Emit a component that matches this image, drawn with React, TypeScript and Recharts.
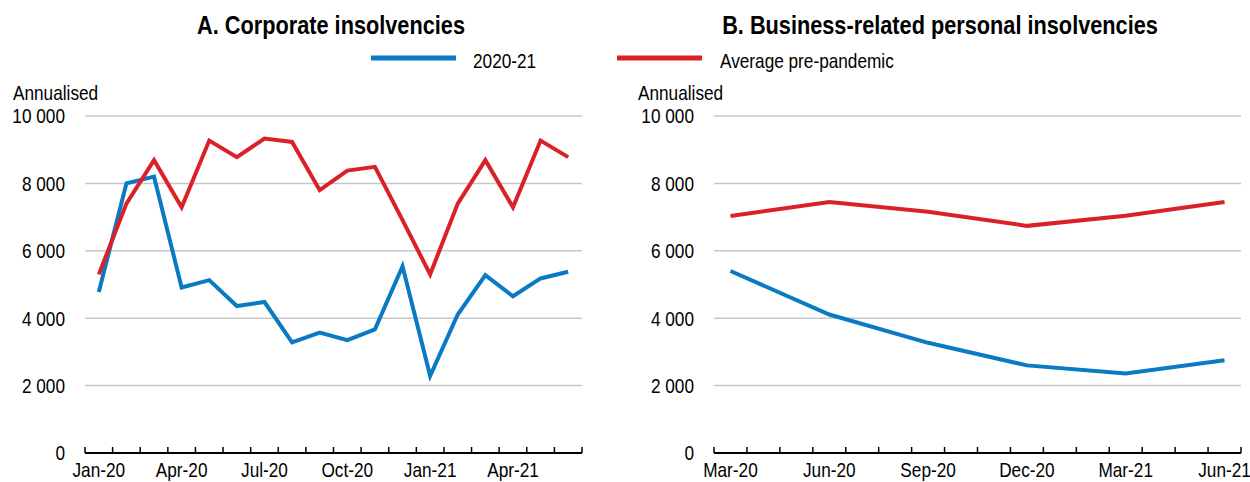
import * as React from 'react';
import { LineChart, Line, XAxis, YAxis, CartesianGrid } from 'recharts';

// Panel A: monthly corporate insolvencies (annualised)
const monthsA = [
  'Jan-20', 'Feb-20', 'Mar-20', 'Apr-20', 'May-20', 'Jun-20', 'Jul-20', 'Aug-20', 'Sep-20',
  'Oct-20', 'Nov-20', 'Dec-20', 'Jan-21', 'Feb-21', 'Mar-21', 'Apr-21', 'May-21', 'Jun-21',
];
const corp2020 = [4780, 8000, 8200, 4910, 5130, 4360, 4480, 3280, 3570, 3350, 3670, 5540, 2290, 4110, 5280, 4650, 5180, 5380];
const corpAvg = [5300, 7400, 8690, 7290, 9270, 8780, 9330, 9230, 7800, 8380, 8490, 6910, 5300, 7400, 8690, 7290, 9270, 8780];
const labelsA = ['Jan-20', 'Apr-20', 'Jul-20', 'Oct-20', 'Jan-21', 'Apr-21'];

// Panel B: quarterly business-related personal insolvencies (annualised)
const monthsB = [
  'Mar-20', 'Apr-20', 'May-20', 'Jun-20', 'Jul-20', 'Aug-20', 'Sep-20', 'Oct-20',
  'Nov-20', 'Dec-20', 'Jan-21', 'Feb-21', 'Mar-21', 'Apr-21', 'May-21', 'Jun-21',
];
const quartersB = ['Mar-20', 'Jun-20', 'Sep-20', 'Dec-20', 'Mar-21', 'Jun-21'];
const pers2020 = [5400, 4110, 3270, 2600, 2360, 2750];
const persAvg = [7030, 7450, 7160, 6740, 7040, 7450];

const yTicks = [0, 2000, 4000, 6000, 8000, 10000];

const BLUE = '#0A7BC2';
const RED = '#DB2128';
const FONT = "'Liberation Sans', Arial, sans-serif";
// no Arial Narrow available: squeeze Liberation Sans horizontally instead
const NARROW = 0.82;

const fmt = (n: number) => String(n).replace(/\B(?=(\d{3})+(?!\d))/g, ' ');

function NarrowText({
  x,
  y,
  size,
  anchor = 'start',
  dy,
  bold,
  children,
}: {
  x: number;
  y: number;
  size: number;
  anchor?: 'start' | 'middle' | 'end';
  dy?: string;
  bold?: boolean;
  children: React.ReactNode;
}) {
  return (
    <text
      transform={`translate(${x} ${y}) scale(${NARROW} 1)`}
      fontFamily={FONT}
      fontSize={size}
      fontWeight={bold ? 'bold' : 'normal'}
      fill="#000"
      textAnchor={anchor}
      dy={dy}
    >
      {children}
    </text>
  );
}

type Row = { i: number; blue: number; red: number };

function Panel({
  rows,
  months,
  labels,
  width,
  yWidth,
  right,
}: {
  rows: Row[];
  months: string[];
  labels: string[];
  width: number;
  yWidth: number;
  right: number;
}) {
  const domain: [number, number] = [-0.5, months.length - 0.5];
  const bounds = [...months.map((_, i) => i - 0.5), months.length - 0.5];
  const labelTicks = labels.map((l) => months.indexOf(l));

  return (
    <LineChart width={width} height={482} data={rows} margin={{ top: 116, right, bottom: 0, left: 0 }}>
      <CartesianGrid vertical={false} stroke="#c8c8c8" strokeWidth={1.5} xAxisId="labels" />
      <XAxis
        xAxisId="marks"
        type="number"
        dataKey="i"
        domain={domain}
        allowDataOverflow
        ticks={bounds}
        interval={0}
        mirror
        height={1}
        tickSize={6}
        tickFormatter={() => ''}
        axisLine={{ stroke: '#000', strokeWidth: 2 }}
        tickLine={{ stroke: '#000', strokeWidth: 1.5 }}
      />
      <XAxis
        xAxisId="labels"
        type="number"
        dataKey="i"
        domain={domain}
        allowDataOverflow
        ticks={labelTicks}
        interval={0}
        height={29}
        tickSize={0}
        tickMargin={9}
        axisLine={false}
        tickLine={false}
        tick={(p: any) => (
          <NarrowText x={p.x} y={p.y} size={21} anchor="middle" dy="0.71em">
            {months[p.payload.value]}
          </NarrowText>
        )}
      />
      <YAxis
        domain={[0, 10000]}
        ticks={yTicks}
        interval={0}
        width={yWidth}
        tickSize={0}
        tickMargin={20}
        axisLine={false}
        tickLine={false}
        tick={(p: any) => (
          <NarrowText x={p.x} y={p.y} size={21} anchor="end" dy="0.355em">
            {fmt(p.payload.value)}
          </NarrowText>
        )}
      />
      <Line xAxisId="labels" type="linear" dataKey="blue" stroke={BLUE} strokeWidth={4} dot={false} isAnimationActive={false} />
      <Line xAxisId="labels" type="linear" dataKey="red" stroke={RED} strokeWidth={4} dot={false} isAnimationActive={false} />
    </LineChart>
  );
}

export default function App() {
  const rowsA: Row[] = monthsA.map((_, i) => ({ i, blue: corp2020[i], red: corpAvg[i] }));
  const rowsB: Row[] = quartersB.map((q, k) => ({ i: monthsB.indexOf(q), blue: pers2020[k], red: persAvg[k] }));

  return (
    <div style={{ position: 'absolute', left: 0, top: 0, width: 1250, height: 482, background: '#fff', overflow: 'hidden' }}>
      <div style={{ position: 'absolute', left: 0, top: 0 }}>
        <Panel rows={rowsA} months={monthsA} labels={labelsA} width={600} yWidth={85} right={18} />
      </div>
      <div style={{ position: 'absolute', left: 620, top: 0 }}>
        <Panel rows={rowsB} months={monthsB} labels={quartersB} width={630} yWidth={94} right={9} />
      </div>
      <svg width={1250} height={482} style={{ position: 'absolute', left: 0, top: 0, pointerEvents: 'none' }}>
        <NarrowText x={331} y={34} size={26.5} anchor="middle" bold>A. Corporate insolvencies</NarrowText>
        <NarrowText x={940} y={34} size={26.5} anchor="middle" bold>B. Business-related personal insolvencies</NarrowText>
        <line x1={371} x2={456} y1={58} y2={58} stroke={BLUE} strokeWidth={5} />
        <NarrowText x={473} y={68} size={21}>2020-21</NarrowText>
        <line x1={617} x2={702} y1={58} y2={58} stroke={RED} strokeWidth={5} />
        <NarrowText x={720} y={68} size={21}>Average pre-pandemic</NarrowText>
        <NarrowText x={13} y={100} size={21}>Annualised</NarrowText>
        <NarrowText x={638} y={100} size={21}>Annualised</NarrowText>
      </svg>
    </div>
  );
}
